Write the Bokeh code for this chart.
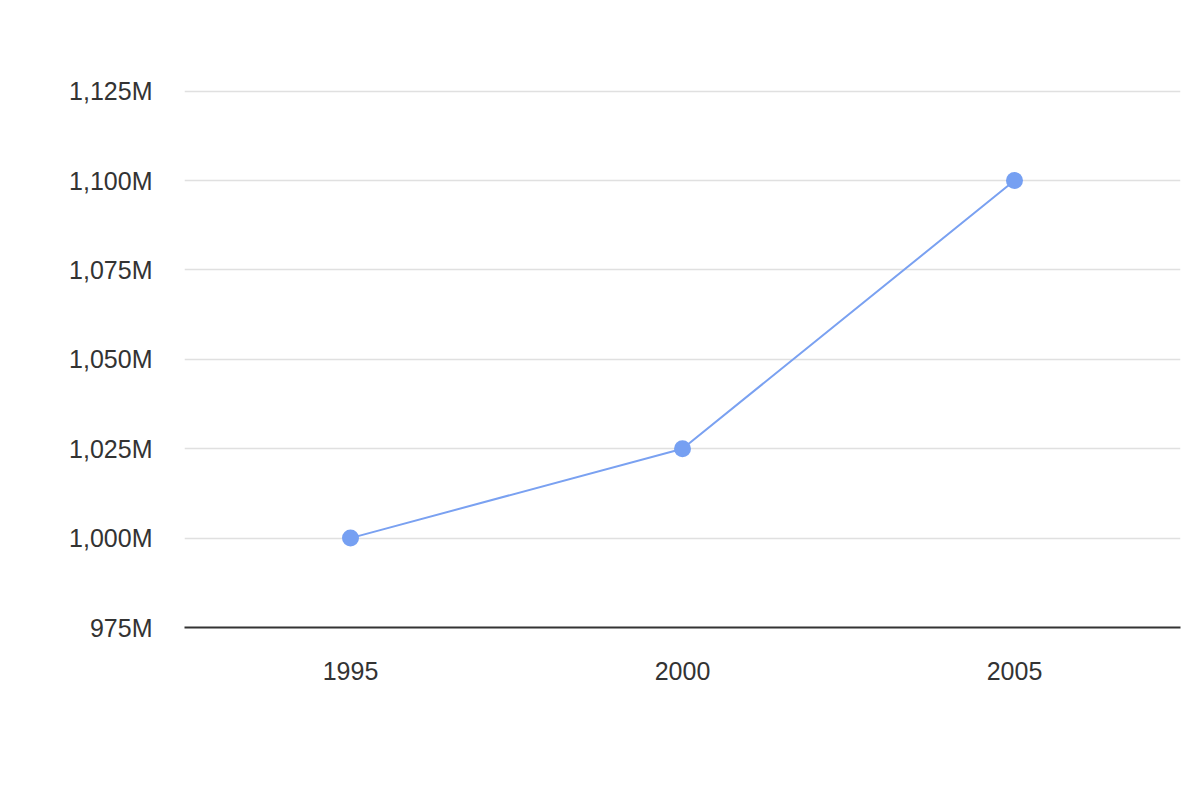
from bokeh.plotting import figure
from bokeh.models import FactorRange, Range1d, FixedTicker, CustomJSTickFormatter, ColumnDataSource
from bokeh.embed import file_html
from bokeh.resources import INLINE

years = ["1995", "2000", "2005"]
values = [1000, 1025, 1100]  # millions
y_ticks = [975, 1000, 1025, 1050, 1075, 1100, 1125]

src = ColumnDataSource(dict(x=years, y=values))

p = figure(width=1184, height=784, x_range=FactorRange(*years, range_padding=0),
           y_range=Range1d(975, 1140), output_backend="svg", toolbar_location=None,
           min_border_left=184, min_border_right=4, min_border_top=37, min_border_bottom=157)
p.outline_line_color = None
p.xgrid.grid_line_color = None
p.ygrid.grid_line_color = "#e0e0e0"
p.ygrid.grid_line_width = 1.5

p.line("x", "y", source=src, line_color="#7aa1f1", line_width=2)
p.scatter("x", "y", source=src, size=17, fill_color="#76a0f2", line_color=None)

p.yaxis.ticker = FixedTicker(ticks=y_ticks)
p.yaxis.formatter = CustomJSTickFormatter(code="return tick.toLocaleString('en-US') + 'M';")
p.yaxis.axis_line_color = None
p.yaxis.major_tick_line_color = None
p.yaxis.minor_tick_line_color = None
p.yaxis.major_label_standoff = 26

p.xaxis.axis_line_color = "#333333"
p.xaxis.axis_line_width = 2
p.xaxis.major_tick_line_color = None
p.xaxis.minor_tick_line_color = None
p.xaxis.major_label_standoff = 28

for ax in (p.xaxis, p.yaxis):
    ax.major_label_text_font = "Liberation Sans"
    ax.major_label_text_font_size = "25px"
    ax.major_label_text_color = "#333333"

open("out.html", "w").write(file_html(p, INLINE))
